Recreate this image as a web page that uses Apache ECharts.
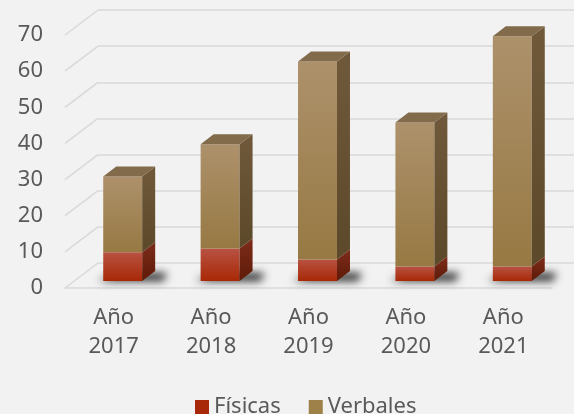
<!DOCTYPE html>
<html>
<head>
<meta charset="utf-8">
<script src="https://cdn.jsdelivr.net/npm/echarts@6/dist/echarts.min.js"></script>
<style>
  html, body { margin: 0; padding: 0; background: #f2f2f2; }
  #chart { width: 574px; height: 414px; }
</style>
</head>
<body>
<div id="chart"></div>
<script>
  // datos
  var categorias = ['Año\n2017', 'Año\n2018', 'Año\n2019', 'Año\n2020', 'Año\n2021'];
  var fisicas = [8, 9, 6, 4, 4];
  var verbales = [21, 29, 55, 40, 64];
  var ticks = [0, 10, 20, 30, 40, 50, 60, 70];

  var DX = 13, DY = -10;      // profundidad de la barra
  var WALL_DX = 33, WALL_DY = -25; // profundidad de la pared
  var SHIFT = 2000;           // truco para dibujar solo la sombra difuminada
  var font = 'Noto Sans';

  function grad(top, bottom) {
    return new echarts.graphic.LinearGradient(0, 0, 0, 1, [
      { offset: 0, color: top }, { offset: 1, color: bottom }
    ]);
  }

  function makeRender(front, side, withTop, withShadow) {
    return function (params, api) {
      var i = api.value(0);
      var lo = api.coord([i, api.value(1)]);
      var hi = api.coord([i, api.value(2)]);
      var w = api.size([1, 0])[0] * 0.4;
      var x0 = lo[0] - w / 2, x1 = lo[0] + w / 2;
      var children = [];
      if (withShadow) {
        children.push({
          type: 'polygon',
          shape: { points: [[x0 - 5 - SHIFT, lo[1]], [x1 + DX + 8 - SHIFT, lo[1]], [x1 + DX + 12 - SHIFT, lo[1] + DY + 2], [x0 + DX - SHIFT, lo[1] + DY + 2]] },
          style: { fill: '#000', shadowBlur: 8, shadowOffsetX: SHIFT, shadowColor: 'rgba(0,0,0,0.85)' }
        });
      }
      children.push({
        type: 'rect',
        shape: { x: x0, y: hi[1], width: w, height: lo[1] - hi[1] },
        style: { fill: grad(front[0], front[1]) }
      });
      children.push({
        type: 'polygon',
        shape: { points: [[x1, hi[1]], [x1 + DX, hi[1] + DY], [x1 + DX, lo[1] + DY], [x1, lo[1]]] },
        style: { fill: grad(side[0], side[1]) }
      });
      if (withTop) {
        children.push({
          type: 'polygon',
          shape: { points: [[x0, hi[1]], [x1, hi[1]], [x1 + DX, hi[1] + DY], [x0 + DX, hi[1] + DY]] },
          style: { fill: '#816b4b' }
        });
      }
      return { type: 'group', children: children };
    };
  }

  var dataFis = categorias.map(function (c, i) { return [i, 0, fisicas[i]]; });
  var dataVer = categorias.map(function (c, i) { return [i, fisicas[i], fisicas[i] + verbales[i]]; });

  var chart = echarts.init(document.getElementById('chart'));
  chart.setOption({
    backgroundColor: '#f2f2f2',
    animation: false,
    textStyle: { fontFamily: font },
    legend: {
      data: ['Físicas', 'Verbales'],
      top: 391,
      left: 190,
      itemWidth: 14,
      itemHeight: 14,
      itemGap: 28,
      icon: 'rect',
      textStyle: { fontSize: 22, color: '#595959', fontFamily: font }
    },
    grid: [
      // pared del fondo
      { left: 98, top: 10, width: 487, height: 253 },
      // plano frontal (etiquetas)
      { left: 65, top: 35, width: 487, height: 253 },
      // plano de las barras
      { left: 74, top: 29, width: 487, height: 252 }
    ],
    xAxis: [
      { gridIndex: 0, type: 'category', data: categorias, show: false },
      {
        gridIndex: 1, type: 'category', data: categorias,
        axisLine: { lineStyle: { color: '#d9d9d9', width: 1.5 } },
        axisTick: { show: false },
        axisLabel: { fontSize: 22, color: '#595959', lineHeight: 29, margin: 15, fontFamily: font }
      },
      { gridIndex: 2, type: 'category', data: categorias, show: false }
    ],
    yAxis: [
      {
        gridIndex: 0, type: 'value', min: 0, max: 70, interval: 10,
        axisLine: { show: false }, axisTick: { show: false }, axisLabel: { show: false },
        splitLine: { lineStyle: { color: '#d9d9d9', width: 1.5 } }
      },
      {
        gridIndex: 1, type: 'value', min: 0, max: 70, interval: 10,
        axisLine: { show: false }, axisTick: { show: false }, splitLine: { show: false },
        axisLabel: { fontSize: 22, color: '#595959', margin: 22, fontFamily: font }
      },
      {
        gridIndex: 2, type: 'value', min: 0, max: 70, interval: 10, show: false,
        splitLine: { show: false }
      }
    ],
    series: [
      {
        // líneas diagonales de la pared izquierda
        type: 'custom',
        xAxisIndex: 1, yAxisIndex: 1,
        silent: true,
        data: ticks.map(function (t) { return [0, t]; }),
        renderItem: function (params, api) {
          var y = api.coord([0, api.value(1)])[1];
          var x = params.coordSys.x;
          return {
            type: 'line',
            shape: { x1: x, y1: y, x2: x + WALL_DX, y2: y + WALL_DY },
            style: { stroke: '#d9d9d9', lineWidth: 1.5 }
          };
        }
      },
      {
        name: 'Físicas',
        type: 'custom',
        xAxisIndex: 2, yAxisIndex: 2,
        itemStyle: { color: '#a8290a' },
        encode: { x: 0, y: [1, 2] },
        data: dataFis,
        renderItem: makeRender(['#b85242', '#a82806'], ['#7d2c1a', '#5e1a08'], false, true)
      },
      {
        name: 'Verbales',
        type: 'custom',
        xAxisIndex: 2, yAxisIndex: 2,
        itemStyle: { color: '#9e8148' },
        encode: { x: 0, y: [1, 2] },
        data: dataVer,
        renderItem: makeRender(['#ad916b', '#977943'], ['#6f593a', '#5c492a'], true, false)
      }
    ]
  });
</script>
</body>
</html>
